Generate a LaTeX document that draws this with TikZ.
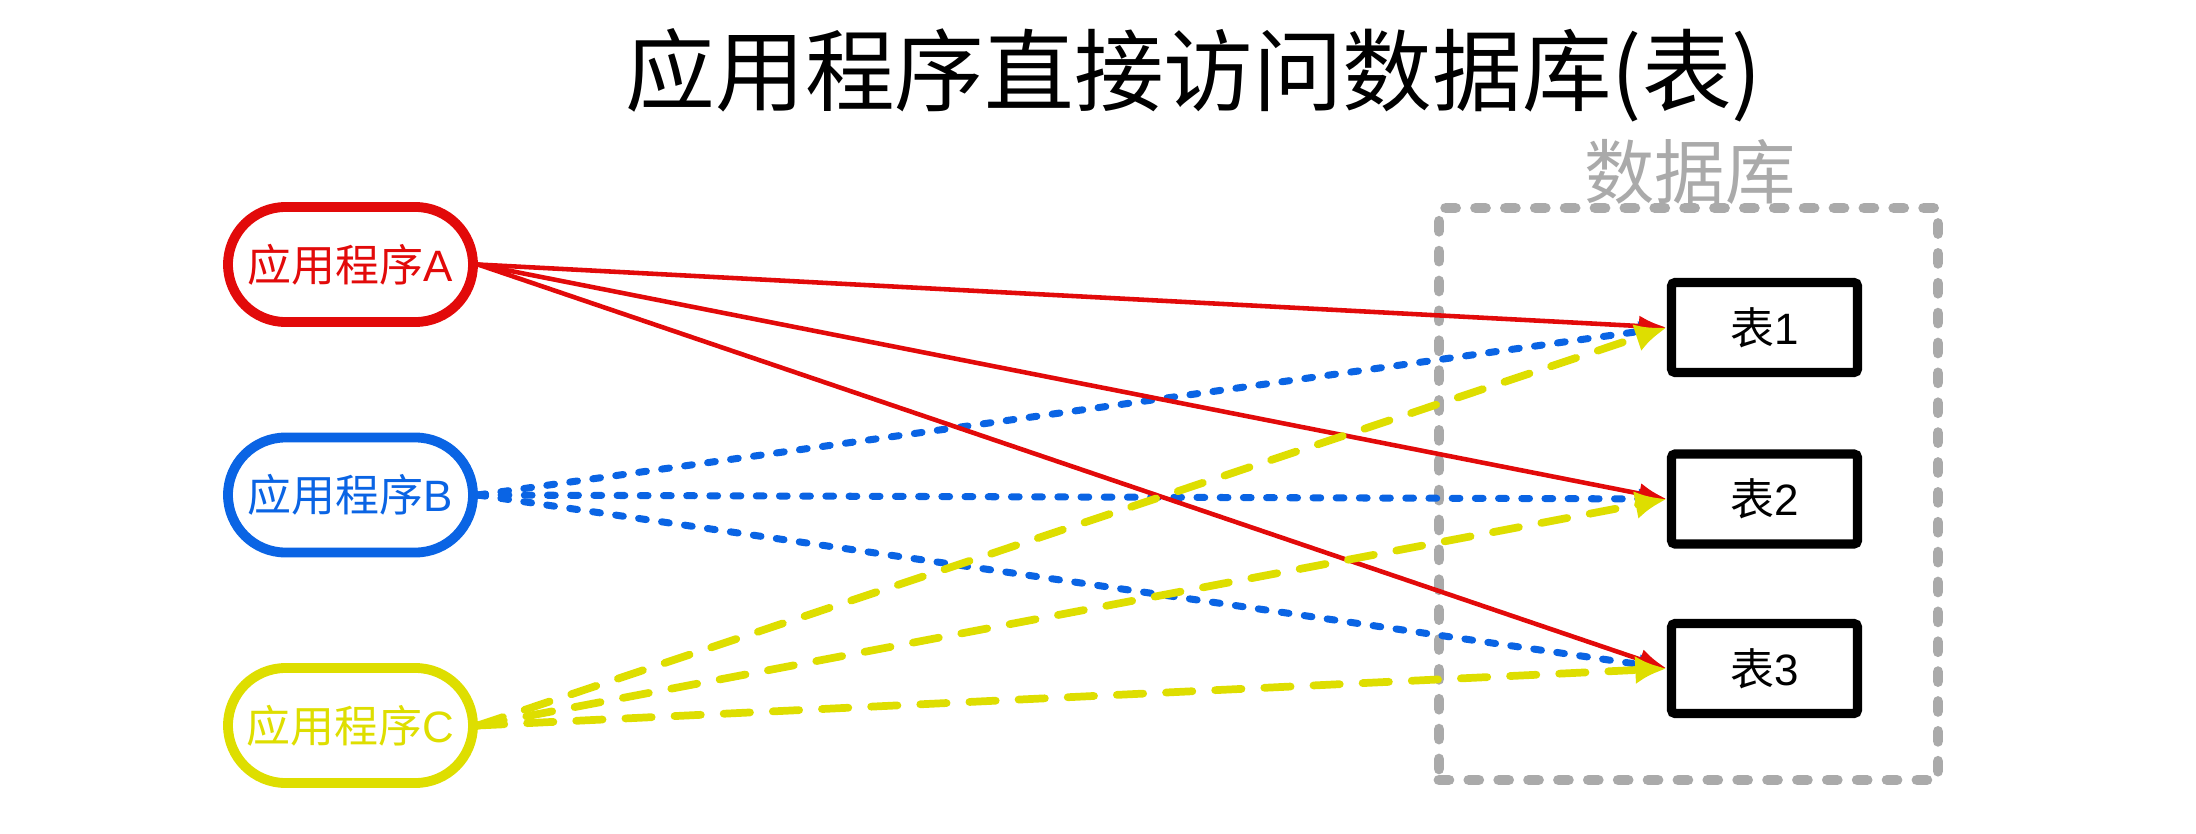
\documentclass[tikz,border=0pt]{standalone}
\usepackage{fontspec}
\setmainfont{Liberation Sans}
\newfontfamily\cjk{Noto Sans CJK SC}
\usepackage{tikz}
\usetikzlibrary{shapes, arrows, arrows.meta}

\definecolor{appRed}{RGB}{226,10,10}
\definecolor{appBlue}{RGB}{10,100,228}
\definecolor{appYellow}{RGB}{222,222,0}
\definecolor{dbGray}{RGB}{170,170,170}

\begin{document}
\begin{tikzpicture}[
    appWidth/.style={minimum width=2.45cm},
    appHeight/.style={minimum height=1.15cm},
    app/.style={appWidth, appHeight, rounded corners=0.575cm, line width=2.8pt, font=\fontsize{12.5}{14}\selectfont},
    tableBox/.style={minimum width=1.86cm, minimum height=0.9cm, line width=2.6pt, rounded corners=1pt, draw=black, font=\fontsize{12.5}{14}\selectfont},
    dbFrame/.style={draw=dbGray, line width=3.1pt, line cap=round, dash pattern=on 2.8pt off 5.7pt},
    redLine/.style={draw=appRed, line width=1.3pt},
    blueLine/.style={draw=appBlue, line width=2pt, line cap=round, dash pattern=on 2.2pt off 4.4pt},
    yellowLine/.style={draw=appYellow, line width=2.2pt, line cap=round, dash pattern=on 7.5pt off 6.5pt},
    every node/.style={
        text centered,
        inner sep=0pt,
        }
        ]
    \useasboundingbox (0, 0) rectangle (21.96, -8.34);

    \node[font=\fontsize{25.5}{30}\selectfont] (title) at (11.94, -0.75) {\cjk 应用程序直接访问数据库(表)};

    \node[dbFrame, minimum width=4.99cm, minimum height=5.72cm] (db) at (16.885, -4.94) {};
    \node[text=dbGray, font=\fontsize{20}{24}\selectfont] (dbLabel) at (16.9, -1.72) {\cjk 数据库};

    \node[app, draw=appRed, text=appRed] (appA) at (3.505, -2.645) {{\cjk 应用程序}A};
    \node[app, draw=appBlue, text=appBlue] (appB) at (3.505, -4.95) {{\cjk 应用程序}B};
    \node[app, draw=appYellow, text=appYellow] (appC) at (3.505, -7.255) {{\cjk 应用程序}C};

    \node[tableBox] (t1) at (17.645, -3.275) {{\cjk 表}1};
    \node[tableBox] (t2) at (17.645, -4.99) {{\cjk 表}2};
    \node[tableBox] (t3) at (17.645, -6.685) {{\cjk 表}3};

    \draw[blueLine, ->, >={Latex[length=8pt, width=6pt]}] (appB.east) -- (t1.west);
    \draw[blueLine, ->, >={Latex[length=8pt, width=6pt]}] (appB.east) -- (t2.west);
    \draw[blueLine, ->, >={Latex[length=8pt, width=6pt]}] (appB.east) -- (t3.west);

    \draw[redLine, ->, >={Latex[length=8pt, width=6pt]}] (appA.east) -- (t1.west);
    \draw[redLine, ->, >={Latex[length=8pt, width=6pt]}] (appA.east) -- (t2.west);
    \draw[redLine, ->, >={Latex[length=8pt, width=6pt]}] (appA.east) -- (t3.west);

    \draw[yellowLine, ->, >={Latex[length=9pt, width=8pt]}] (appC.east) -- (t1.west);
    \draw[yellowLine, ->, >={Latex[length=9pt, width=8pt]}] (appC.east) -- (t2.west);
    \draw[yellowLine, ->, >={Latex[length=9pt, width=8pt]}] (appC.east) -- (t3.west);
\end{tikzpicture}
\end{document}
